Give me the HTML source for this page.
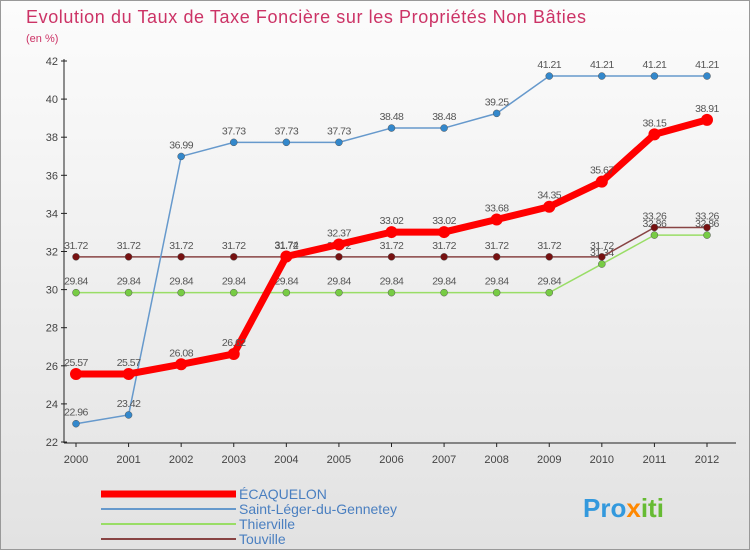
<!DOCTYPE html>
<html><head><meta charset="utf-8"><style>
body{margin:0;width:750px;height:550px;overflow:hidden;font-family:"Liberation Sans",sans-serif}
#c{position:absolute;left:0;top:0;width:748px;height:548px;border:1px solid #999;background:linear-gradient(#fcfcfc,#e2e2e2)}
</style></head><body>
<div id="c">
<svg id="s" width="750" height="550">
<text x="25" y="22" font-size="18" fill="#cc3366" textLength="560">Evolution du Taux de Taxe Foncière sur les Propriétés Non Bâties</text>
<text x="25" y="41" font-size="11" fill="#cc3366">(en %)</text>
<g id="g"></g>
<g>
<line x1="100" y1="493" x2="235" y2="493" stroke="#ff0000" stroke-width="7"/>
<text x="238" y="498" font-size="14" fill="#4a7fc0">ÉCAQUELON</text>
<line x1="100" y1="508" x2="235" y2="508" stroke="#6699cc" stroke-width="2"/>
<text x="238" y="513" font-size="14" fill="#4a7fc0">Saint-Léger-du-Gennetey</text>
<line x1="100" y1="523" x2="235" y2="523" stroke="#99dd66" stroke-width="2"/>
<text x="238" y="528" font-size="14" fill="#4a7fc0">Thierville</text>
<line x1="100" y1="538" x2="235" y2="538" stroke="#884444" stroke-width="2"/>
<text x="238" y="543" font-size="14" fill="#4a7fc0">Touville</text>
</g>
<text x="582" y="516" font-size="26" font-weight="bold" fill="#3399dd">Pro<tspan fill="#ff8800">x</tspan><tspan fill="#66bb33">iti</tspan></text>
</svg></div>
<script>
const years=[2000,2001,2002,2003,2004,2005,2006,2007,2008,2009,2010,2011,2012];
const yTicks=[22,24,26,28,30,32,34,36,38,40,42];
const ecaquelon=[25.57,25.57,26.08,26.62,31.74,32.37,33.02,33.02,33.68,34.35,35.67,38.15,38.91];
const saintLeger=[22.96,23.42,36.99,37.73,37.73,37.73,38.48,38.48,39.25,41.21,41.21,41.21,41.21];
const thierville=[29.84,29.84,29.84,29.84,29.84,29.84,29.84,29.84,29.84,29.84,31.34,32.86,32.86];
const touville=[31.72,31.72,31.72,31.72,31.72,31.72,31.72,31.72,31.72,31.72,31.72,33.26,33.26];
const X=i=>75+i*(706-75)/12, Y=v=>441-(v-22)*(441-60)/20;
const g=document.getElementById('g'),NS='http://www.w3.org/2000/svg';
function mk(t,a,p){const e=document.createElementNS(NS,t);for(const k in a)e.setAttribute(k,a[k]);(p||g).appendChild(e);return e;}
yTicks.forEach(v=>{const l=mk('line',{x1:60,x2:66,y1:Y(v),y2:Y(v),stroke:'#222'});


const t=mk('text',{x:57,y:Y(v)+4,'font-size':11,fill:'#444','text-anchor':'end'});t.textContent=v;

});
mk('line',{x1:63,x2:63,y1:58,y2:442,stroke:'#222'});
mk('line',{x1:63,x2:735,y1:442,y2:442,stroke:'#222'});
years.forEach((y,i)=>{const k=mk('line',{x1:X(i),x2:X(i),y1:442,y2:446,stroke:'#222'});


const t=mk('text',{x:X(i),y:462,'font-size':11,fill:'#444','text-anchor':'middle'});t.textContent=y;

});
function series(d,col,w,r,fill,name){
const p=mk('polyline',{points:d.map((v,i)=>X(i)+','+Y(v)).join(' '),fill:'none',stroke:col,'stroke-width':w});


d.forEach((v,i)=>{const c=mk('circle',{cx:X(i),cy:Y(v),r:r,fill:fill,stroke:fill==col?'none':'#555','stroke-width':0.5});


const t=mk('text',{x:X(i),y:Y(v)-8,'font-size':10.5,fill:'#555','text-anchor':'middle','letter-spacing':'-0.5'});t.textContent=v;

});}
series(thierville,'#99dd66',1.5,3.5,'#77cc44','thierville');
series(touville,'#884444',1.5,3.5,'#771111','touville');
series(saintLeger,'#6699cc',1.5,3.5,'#3388cc','saint-leger');
series(ecaquelon,'#ff0000',7,6,'#ff0000','ecaquelon');
</script></body></html>
